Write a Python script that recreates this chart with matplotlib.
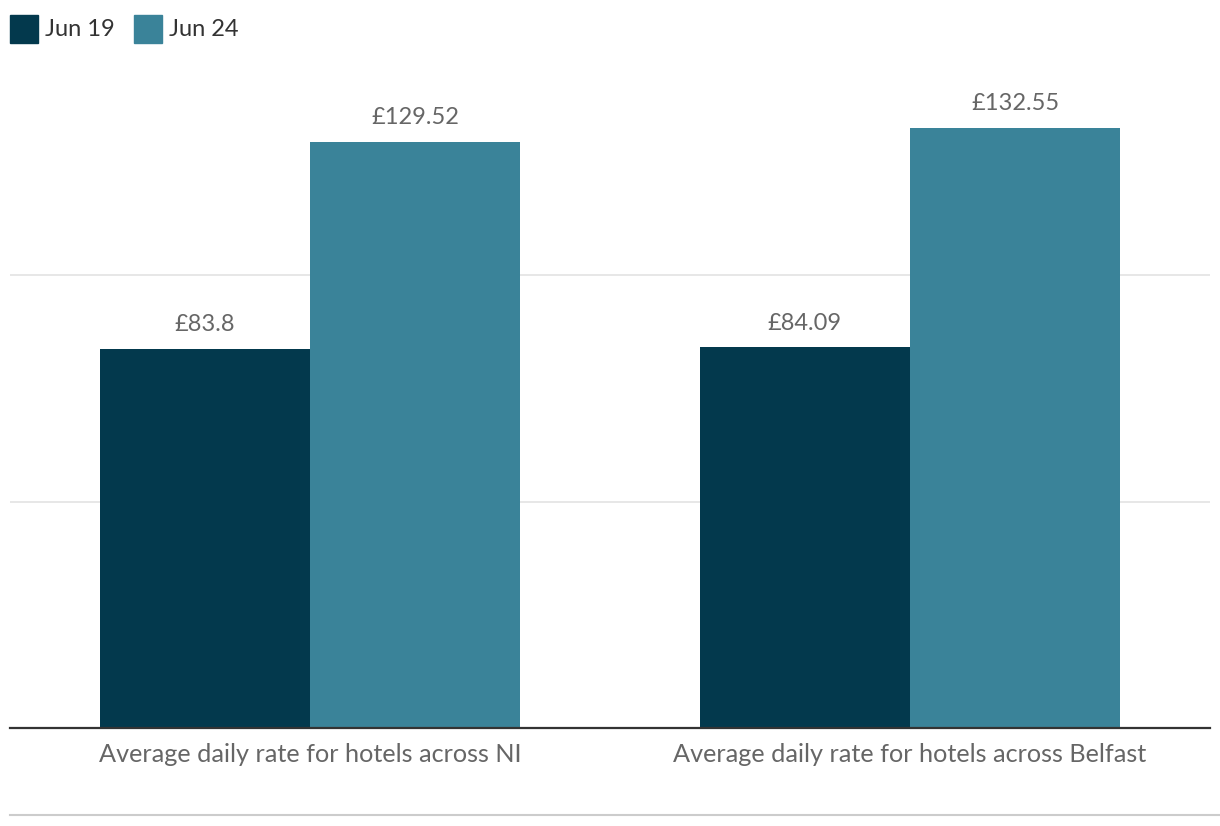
import matplotlib
matplotlib.use("Agg")
import matplotlib.pyplot as plt
from matplotlib.patches import Rectangle
from matplotlib.lines import Line2D
import numpy as np

plt.rcParams['font.family'] = ['Lato', 'DejaVu Sans']

# data
categories = ["Average daily rate for hotels across NI",
              "Average daily rate for hotels across Belfast"]
series_names = ["Jun 19", "Jun 24"]
jun19 = [83.8, 84.09]
jun24 = [129.52, 132.55]
value_labels_19 = ["£83.8", "£84.09"]
value_labels_24 = ["£129.52", "£132.55"]
colors = ["#03394d", "#3a8399"]

W, H = 1220, 826
fig = plt.figure(figsize=(W / 100, H / 100), dpi=100)
ax = fig.add_axes([10 / W, (H - 727.5) / H, 1200 / W, 678 / H])

x = np.arange(len(categories))
bw = 0.35
b1 = ax.bar(x - bw / 2, jun19, bw, color=colors[0], zorder=2)
b2 = ax.bar(x + bw / 2, jun24, bw, color=colors[1], zorder=2)

for bars, labs in [(b1, value_labels_19), (b2, value_labels_24)]:
    for rect, lab in zip(bars, labs):
        ax.annotate(lab, (rect.get_x() + rect.get_width() / 2, rect.get_height()),
                    xytext=(0, 10), textcoords="offset points",
                    ha="center", va="bottom", fontsize=17, color="#666666")

ax.set_xlim(-0.5, 1.5)
ax.set_ylim(0, 150)
ax.set_yticks([50, 100])
ax.yaxis.grid(True, color="#e3e3e3", linewidth=1.2, zorder=0)
ax.tick_params(axis="y", length=0, labelleft=False)
ax.set_xticks(x)
ax.set_xticklabels(categories, fontsize=18.2, color="#666666")
ax.tick_params(axis="x", length=0, pad=11)
for s in ["top", "right", "left"]:
    ax.spines[s].set_visible(False)
ax.spines["bottom"].set_color("#333333")
ax.spines["bottom"].set_linewidth(1.6)
ax.spines["bottom"].set_zorder(3)

# legend drawn by hand
lx = 10
for name, c in zip(series_names, colors):
    fig.add_artist(Rectangle((lx / W, (H - 43) / H), 28 / W, 28 / H,
                             transform=fig.transFigure, color=c))
    fig.text((lx + 35) / W, (H - 30) / H, name, fontsize=17,
             color="#333333", va="center", ha="left")
    lx += 124

# bottom separator
fig.add_artist(Line2D([10 / W, 1.0], [(H - 815) / H] * 2,
                      transform=fig.transFigure, color="#cccccc", linewidth=1.5))

fig.savefig("out.png", dpi=100)
